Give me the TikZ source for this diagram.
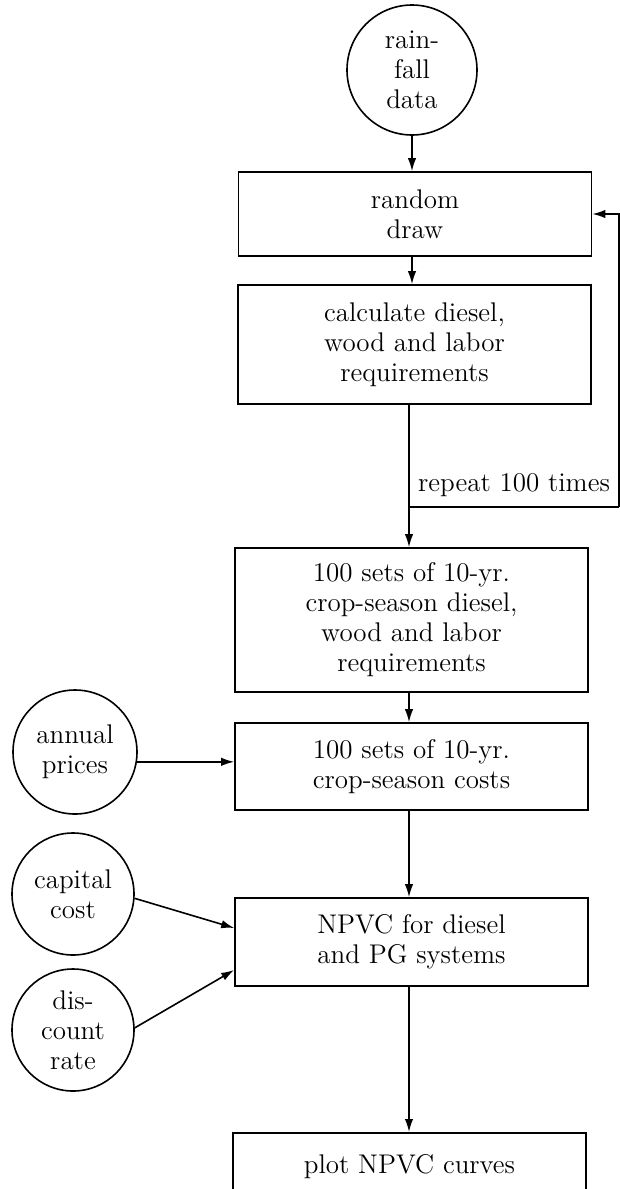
\documentclass[tikz,border=0pt]{standalone}
\usetikzlibrary{arrows.meta,calc}
\begin{document}
\begin{tikzpicture}[x=0.5pt,y=-0.5pt,
  every node/.style={font=\fontsize{13.5}{15}\selectfont},
  box/.style={draw, line width=0.8pt, align=center, minimum width=176.5pt, inner sep=0pt},
  circ/.style={draw, circle, line width=0.8pt, align=center, inner sep=0pt},
  arr/.style={line width=0.8pt, -{Latex[length=6.5pt,width=4.2pt]}},
  ln/.style={line width=0.8pt}]
\useasboundingbox (0,0) rectangle (620,1189);
\clip (0,0) rectangle (620,1189);
% nodes
\node[circ, minimum size=65pt] (rain) at (412,70) {rain-\\fall\\data};
\node[box, minimum height=42pt] (rd) at (415,214) {random\\draw};
\node[box, minimum height=59.5pt] (calc) at (414.5,344.5) {calculate diesel,\\wood and labor\\requirements};
\node[box, minimum height=72pt] (req) at (411.5,620) {100 sets of 10-yr.\\crop-season diesel,\\wood and labor\\requirements};
\node[box, minimum height=43.5pt] (costs) at (411.5,766.5) {100 sets of 10-yr.\\crop-season costs};
\node[box, minimum height=44pt] (npvc) at (411.5,942) {NPVC for diesel\\and PG systems};
\node[box, minimum height=34pt, anchor=north] (plot) at (409.5,1132) {plot NPVC curves};
\node[circ, minimum size=62pt] (ap) at (75,752) {annual\\prices};
\node[circ, minimum size=61pt] (cc) at (73,894) {capital\\cost};
\node[circ, minimum size=61pt] (dr) at (73,1030) {dis-\\count\\rate};
\node (rep) at (514,485) {repeat 100 times};
\coordinate (lj) at (409,507);
\coordinate (lc) at (619,507);
% connectors
\draw[arr] (rain.south) -- (rain.south |- rd.north);
\draw[arr] (rd.south -| rain) -- (calc.north -| rain);
\draw[arr] (calc.south -| lj) -- (req.north -| lj);
\draw[ln] (lj) -- (lc);
\draw[arr] (lc) |- (rd.east);
\draw[arr] (req.south -| lj) -- (costs.north -| lj);
\draw[arr] (ap.-9) -- (ap.-9 -| costs.west);
\draw[arr] (costs.south -| lj) -- (npvc.north -| lj);
\draw[arr] (cc.-4) -- ($(npvc.west)+(0,-14)$);
\draw[arr] (dr.2) -- ($(npvc.west)+(0,28)$);
\draw[arr] (npvc.south -| lj) -- (plot.north -| lj);
\end{tikzpicture}
\end{document}
